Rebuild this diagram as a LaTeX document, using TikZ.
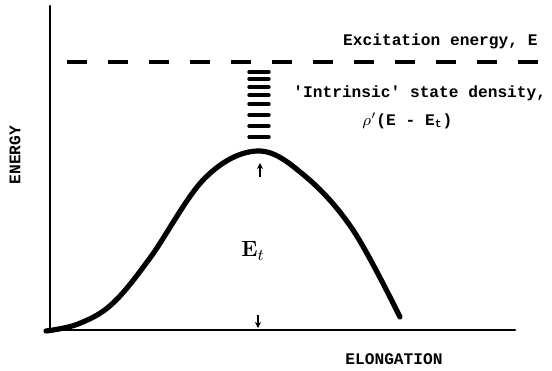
\documentclass[tikz,border=0pt]{standalone}
\usepackage{fontspec}
\setmonofont{Liberation Mono}
\usetikzlibrary{arrows.meta,positioning}

\begin{document}
\begin{tikzpicture}[
  x=0.5pt, y=-0.5pt,
  axisline/.style={line width=1.2pt, line cap=round},
  barrier/.style={line width=2.6pt, line cap=round, line join=round},
  levelline/.style={line width=1.7pt, line cap=round},
  excline/.style={line width=1.6pt, dash pattern=on 10pt off 10.5pt},
  lbl/.style={font=\fontsize{8.1}{10}\selectfont\ttfamily\bfseries, inner sep=0pt},
  tickarrow/.style={-{Stealth[length=3pt, width=3pt]}, line width=0.8pt}
]
\useasboundingbox (0,0) rectangle (552,370);

% axes
\coordinate (origin) at (50,330);
\coordinate (ytop) at (50,6);
\coordinate (xend) at (515,330);
\draw[axisline] (ytop) -- (origin) -- (xend);

% excitation energy level
\coordinate (excL) at (67,62);
\coordinate (excR) at (538,62);
\draw[excline] (excL) -- (excR);

% intrinsic levels above the saddle
\foreach \yy in {72,79,87,95,104,115,126,137}
  \draw[levelline] (249,\yy) -- (269,\yy);

% barrier
\draw[barrier] plot[smooth, tension=0.6] coordinates {(46,331) (78,324) (112,304)
  (150,258) (205,178) (258,151) (305,176) (353,230) (400,317)};

% barrier height
\coordinate (upTail) at (260,177);
\coordinate (upTip) at (260,163);
\coordinate (dnTail) at (258,315);
\coordinate (dnTip) at (258,328);
\draw[tickarrow] (upTail) -- (upTip);
\draw[tickarrow] (dnTail) -- (dnTip);
\node[font=\fontsize{11}{13}\selectfont, inner sep=0pt] (barlabel) at (253,251) {\textbf{E}$_t$};

% labels
\node[lbl, anchor=base east] (exclabel) at (538,45) {Excitation energy, E};
\node[lbl, anchor=base west] (intrlabel) at (293,97) {'Intrinsic' state density,};
\node[lbl, anchor=base west] (rholabel) at (362,125) {$\rho'$(E - E\textsubscript{t})};
\node[lbl, rotate=90] (ylabel) at (15,155) {ENERGY};
\node[lbl] (xlabel) at (394,359) {ELONGATION};
\end{tikzpicture}
\end{document}
